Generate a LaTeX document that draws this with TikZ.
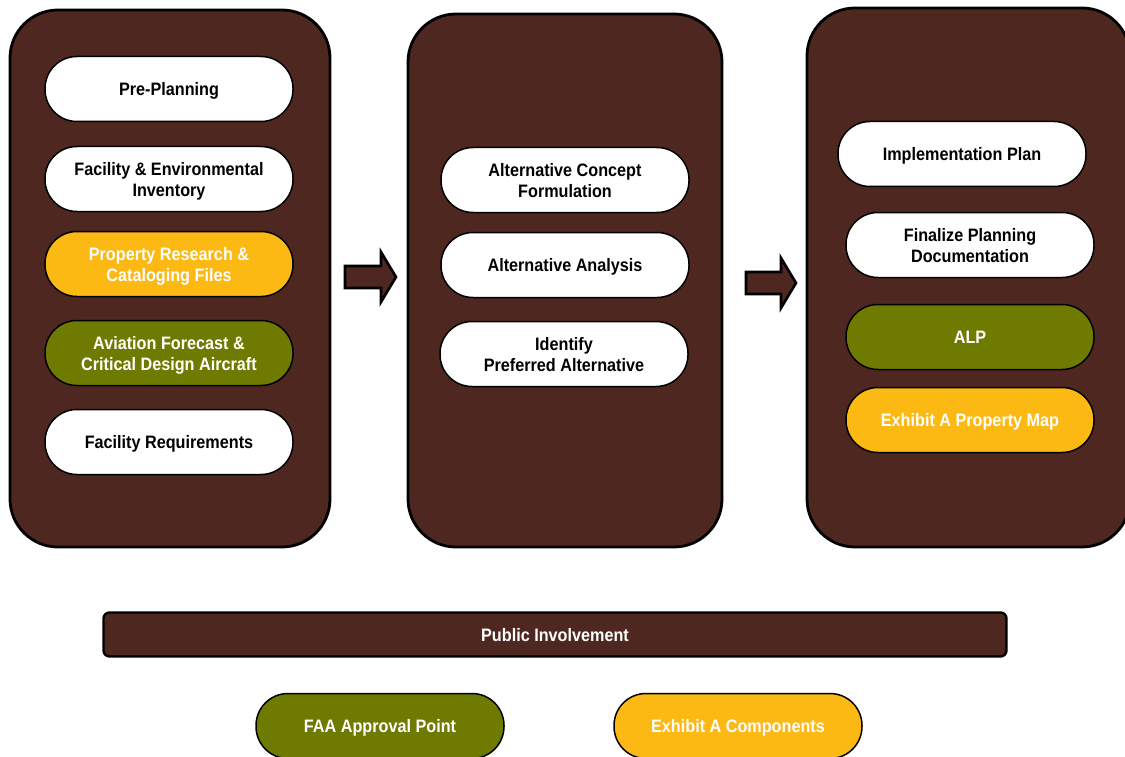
\documentclass[tikz,border=0pt]{standalone}
\usepackage{fontspec}
\setmainfont{Liberation Sans}[FakeStretch=0.9]
\usetikzlibrary{positioning}
\definecolor{pbrown}{HTML}{4E2820}
\definecolor{polive}{HTML}{6E7B00}
\definecolor{pamber}{HTML}{FDB913}
\tikzset{
  panel/.style={draw=black, line width=2.8pt, fill=pbrown, rounded corners=48pt, inner sep=0pt},
  pill/.style={draw=black, line width=1.5pt, rounded corners=32pt, minimum height=65pt, minimum width=248pt, inner sep=0pt,
     align=center, text depth=0pt, font=\fontsize{18}{21}\selectfont\bfseries},
  wpill/.style={pill, fill=white, text=black},
  gpill/.style={pill, fill=polive, text=white},
  ypill/.style={pill, fill=pamber, text=white},
  bigarrow/.style={draw=black, line width=2.6pt, fill=pbrown, line join=miter},
}
\begin{document}
\begin{tikzpicture}[x=1pt, y=-1pt]
\useasboundingbox (0,0) rectangle (1125,757);
\clip (0,0) rectangle (1125,757);
% panels
\draw[panel] (10,10) rectangle (330,547);
\draw[panel] (408,14) rectangle (722,547);
\draw[panel] (807,8) rectangle (1130,547);
% panel 1
\node[wpill] (pre) at (169,89) {Pre-Planning};
\node[wpill] (fei) at (169,179) {Facility \& Environmental\\Inventory};
\node[ypill] (prc) at (169,264) {Property Research \&\\Cataloging Files};
\node[gpill] (afc) at (169,353) {Aviation Forecast \&\\Critical Design Aircraft};
\node[wpill] (frq) at (169,442) {Facility Requirements};
% panel 2
\node[wpill] (acf) at (565,180) {Alternative Concept\\Formulation};
\node[wpill] (aan) at (565,265) {Alternative Analysis};
\node[wpill] (ipa) at (564,354) {Identify\\Preferred Alternative};
% panel 3
\node[wpill] (imp) at (962,154) {Implementation Plan};
\node[wpill] (fpd) at (970,245) {Finalize Planning\\Documentation};
\node[gpill] (alp) at (970,337) {ALP};
\node[ypill] (exm) at (970,420) {Exhibit A Property Map};
% arrows
\draw[bigarrow] (345,266) -- (381,266) -- (381,252) -- (396,277) -- (381,302) -- (381,288) -- (345,288) -- cycle;
\draw[bigarrow] (746,272) -- (781,272) -- (781,258) -- (796,283) -- (781,308) -- (781,294) -- (746,294) -- cycle;
% public involvement
\node[draw=black, line width=2.4pt, fill=pbrown, rounded corners=6pt, minimum width=903pt, minimum height=44pt,
      text depth=0pt, text=white, font=\fontsize{18}{21}\selectfont\bfseries] (pub) at (555,634.5) {Public Involvement};
% legend
\node[gpill] (faa) at (380,726) {FAA Approval Point};
\node[ypill] (exc) at (738,726) {Exhibit A Components};
\end{tikzpicture}
\end{document}
